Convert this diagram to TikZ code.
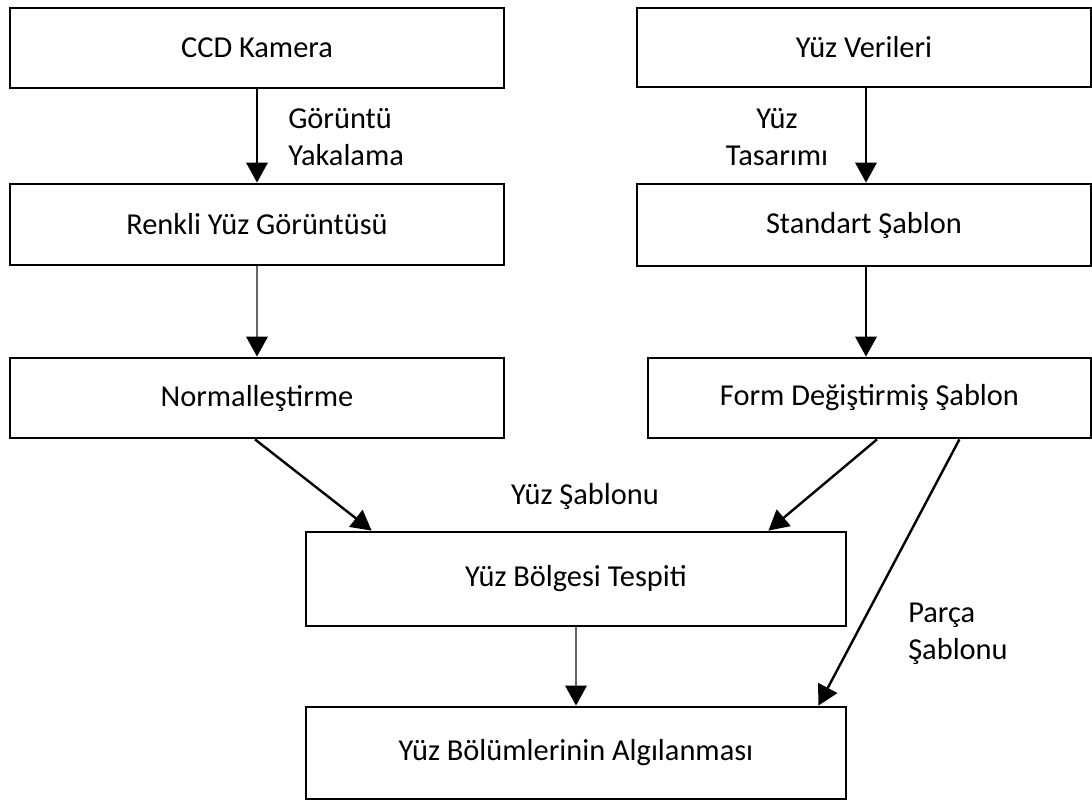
\documentclass[tikz,border=0pt]{standalone}
\usepackage{fontspec}
\setmainfont{Carlito}
\usetikzlibrary{arrows.meta,calc}

\begin{document}
\begin{tikzpicture}[
  x=0.75pt, y=-0.75pt,
  every node/.style={font=\fontsize{22.8}{27.8}\selectfont},
  box/.style={draw=black, line width=2.1pt, rectangle, inner sep=0pt, fill=white},
  flow/.style={line width=1.8pt, draw=black, -{Triangle[width=16pt,length=15pt,color=black]}},
  softflow/.style={flow, draw=black!60},
  lbl/.style={inner sep=0pt}
]
% page frame
\useasboundingbox[fill=white] (0,0) rectangle (1092,803);

% left column
\node[box, minimum width=370.5pt, minimum height=60pt]   (cam)   at (257,48)    {CCD Kamera};
\node[box, minimum width=370.5pt, minimum height=60.75pt] (color) at (257,224.5) {Renkli Yüz Görüntüsü};
\node[box, minimum width=370.5pt, minimum height=60pt]   (norm)  at (257,398)   {Normalleştirme};

% right column
\node[box, minimum width=340.5pt, minimum height=59.25pt] (data) at (864,47.5) {Yüz Verileri};
\node[box, minimum width=340.5pt, minimum height=61.5pt]  (std)  at (864,225)  {Standart Şablon};
\node[box, minimum width=332.25pt, minimum height=60pt]   (form) at (869.5,398) {Form Değiştirmiş Şablon};

% lower boxes
\node[box, minimum width=405pt, minimum height=70.5pt] (region) at (576,579) {Yüz Bölgesi Tespiti};
\node[box, minimum width=405pt, minimum height=69pt]   (parts)  at (576,753) {Yüz Bölümlerinin Algılanması};

% edge labels
\node[lbl, align=left, anchor=west] (capture) at (288,137) {Görüntü\\Yakalama};
\node[lbl, align=center] (design) at (777,137) {Yüz\\Tasarımı};
\node[lbl] (facetpl) at (585,496) {Yüz Şablonu};
\node[lbl, align=left, anchor=west] (parttpl) at (908,634) {Parça\\Şablonu};

% connectors
\draw[flow] (cam.south) -- (color.north);
\draw[softflow] (color.south) -- (norm.north);
\draw[flow] ($(data.south)+(2,0)$) -- ($(std.north)+(2,0)$);
\draw[flow] ($(std.south)+(2,0)$) -- ($(form.north)+(-3.5,0)$);
\draw[flow] ($(norm.south)+(-2,0)$) -- ($(region.north west)+(67,0)$);
\draw[flow] ($(form.south)+(7.5,0)$) -- ($(region.north east)+(-79,0)$);
\draw[flow] ($(form.south east)+(-133,0)$) -- ($(parts.north east)+(-29,0)$);
\draw[softflow] (region.south) -- (parts.north);
\end{tikzpicture}
\end{document}
